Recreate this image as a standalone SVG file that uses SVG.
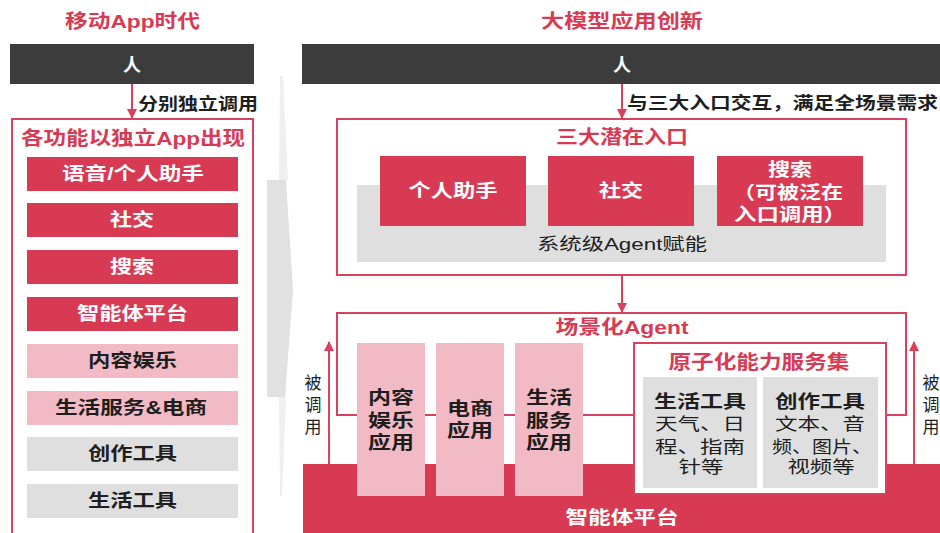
<svg xmlns="http://www.w3.org/2000/svg" width="940" height="533" viewBox="0 0 940 533">
<style>
text{font-family:"Liberation Sans","Noto Sans CJK SC",sans-serif;dominant-baseline:central;text-anchor:middle}
.b{font-weight:bold}
.t{font-size:19px;font-weight:bold;fill:#d93a53}
.w{font-size:18px;font-weight:bold;fill:#fff}
.d{font-size:18px;font-weight:bold;fill:#1e1e1e}
.r{font-size:17px;fill:#1e1e1e}
.red{fill:#d93a53}
.pink{fill:#f1bac4}
.grey{fill:#dfdfdf}
.bar{fill:#3c3c3c}
.frame{fill:none;stroke:#d8425c;stroke-width:2}
.conn{fill:none;stroke:#d8425c;stroke-width:2}
</style>
<defs>
<marker id="ah" viewBox="0 0 10 10" refX="9" refY="5" markerWidth="5" markerHeight="5" orient="auto-start-reverse">
<path d="M0,0 L10,5 L0,10 z" fill="#d8425c"/>
</marker>
</defs>
<rect width="940" height="533" fill="#fff"/>

<!-- middle chevron -->
<g id="chevron">
<polygon points="280,76 283,76 288,180 279,180" fill="#efefef"/>
<polygon points="267,180 286,180 293,290 285,397 267,397" fill="#e1e1e1"/>
<polygon points="279,397 286,397 282,496 280,496" fill="#efefef"/>
</g>

<!-- LEFT PANEL -->
<g id="left-title"><text class="t" x="132.5" y="21" textLength="135" lengthAdjust="spacingAndGlyphs">移动App时代</text></g>
<g id="left-person">
<rect class="bar" x="10" y="44" width="244" height="40"/>
<text class="w" x="132" y="65">人</text>
</g>
<g id="left-frame">
<rect class="frame" x="12" y="119" width="241" height="430"/>
<text class="t" x="133" y="138" textLength="224" lengthAdjust="spacingAndGlyphs">各功能以独立App出现</text>
</g>
<g id="l-voice"><rect class="red" x="27" y="157" width="211" height="34"/><text class="w" x="133" y="174" textLength="142" lengthAdjust="spacingAndGlyphs">语音/个人助手</text></g>
<g id="l-social"><rect class="red" x="27" y="203" width="211" height="34"/><text class="w" x="132" y="220" textLength="44" lengthAdjust="spacingAndGlyphs">社交</text></g>
<g id="l-search"><rect class="red" x="27" y="250" width="211" height="34"/><text class="w" x="132" y="267" textLength="44" lengthAdjust="spacingAndGlyphs">搜索</text></g>
<g id="l-agent"><rect class="red" x="27" y="297" width="211" height="34"/><text class="w" x="132.5" y="314" textLength="111" lengthAdjust="spacingAndGlyphs">智能体平台</text></g>
<g id="l-content"><rect class="pink" x="27" y="344" width="211" height="34"/><text class="d" x="132.5" y="361" textLength="89" lengthAdjust="spacingAndGlyphs">内容娱乐</text></g>
<g id="l-life"><rect class="pink" x="27" y="391" width="211" height="34"/><text class="d" x="131" y="408" textLength="152" lengthAdjust="spacingAndGlyphs">生活服务&amp;电商</text></g>
<g id="l-create"><rect class="grey" x="27" y="437" width="211" height="34"/><text class="d" x="132.5" y="454" textLength="89" lengthAdjust="spacingAndGlyphs">创作工具</text></g>
<g id="l-tools"><rect class="grey" x="27" y="484" width="211" height="34"/><text class="d" x="132.5" y="501" textLength="89" lengthAdjust="spacingAndGlyphs">生活工具</text></g>

<!-- RIGHT PANEL -->
<g id="right-title"><text class="t" x="622" y="21" textLength="162" lengthAdjust="spacingAndGlyphs">大模型应用创新</text></g>
<g id="right-person">
<rect class="bar" x="302" y="44" width="638" height="40"/>
<text class="w" x="622" y="65">人</text>
</g>

<g id="entry-frame">
<rect class="frame" x="337" y="119" width="569" height="156"/>
<text class="t" x="622" y="137" textLength="132" lengthAdjust="spacingAndGlyphs">三大潜在入口</text>
<rect class="grey" x="357" y="185" width="529" height="77"/>
<text class="r" x="622" y="244" textLength="170" lengthAdjust="spacingAndGlyphs">系统级Agent赋能</text>
</g>
<g id="r-assistant"><rect class="red" x="380" y="156" width="146" height="70"/><text class="w" x="453" y="191" textLength="89" lengthAdjust="spacingAndGlyphs">个人助手</text></g>
<g id="r-social"><rect class="red" x="548" y="156" width="146" height="70"/><text class="w" x="621" y="191" textLength="44" lengthAdjust="spacingAndGlyphs">社交</text></g>
<g id="r-search"><rect class="red" x="717" y="156" width="146" height="70"/>
<text class="w" x="790" y="170" textLength="44" lengthAdjust="spacingAndGlyphs">搜索</text>
<text class="w" x="788" y="193" textLength="110" lengthAdjust="spacingAndGlyphs">（可被泛在</text>
<text class="w" x="790" y="215" textLength="112" lengthAdjust="spacingAndGlyphs">入口调用）</text>
</g>

<g id="platform"><rect class="red" x="303" y="464" width="637" height="69"/><text class="w" x="622" y="518" textLength="113" lengthAdjust="spacingAndGlyphs">智能体平台</text></g>

<g id="scene-frame">
<path class="frame" d="M634,415 H337 V313 H906 V415 H886"/>
<text class="t" x="622" y="327" textLength="133" lengthAdjust="spacingAndGlyphs">场景化Agent</text>
</g>
<g id="r-content"><rect class="pink" x="357" y="343" width="68" height="153"/>
<text class="d" x="391" y="398" textLength="46" lengthAdjust="spacingAndGlyphs">内容</text>
<text class="d" x="391" y="421" textLength="46" lengthAdjust="spacingAndGlyphs">娱乐</text>
<text class="d" x="391" y="443" textLength="46" lengthAdjust="spacingAndGlyphs">应用</text>
</g>
<g id="r-ecom"><rect class="pink" x="436" y="343" width="68" height="153"/>
<text class="d" x="470" y="409" textLength="46" lengthAdjust="spacingAndGlyphs">电商</text>
<text class="d" x="470" y="431" textLength="46" lengthAdjust="spacingAndGlyphs">应用</text>
</g>
<g id="r-life"><rect class="pink" x="515" y="343" width="68" height="153"/>
<text class="d" x="549" y="398" textLength="46" lengthAdjust="spacingAndGlyphs">生活</text>
<text class="d" x="549" y="421" textLength="46" lengthAdjust="spacingAndGlyphs">服务</text>
<text class="d" x="549" y="443" textLength="46" lengthAdjust="spacingAndGlyphs">应用</text>
</g>
<g id="atomic">
<rect x="634" y="343" width="252" height="151" fill="#fff" stroke="#d8425c" stroke-width="2"/>
<text class="t" x="759" y="362" textLength="181" lengthAdjust="spacingAndGlyphs">原子化能力服务集</text>
</g>
<g id="a-life"><rect class="grey" x="643" y="377" width="114" height="111"/>
<text class="d" x="700" y="402" textLength="92" lengthAdjust="spacingAndGlyphs">生活工具</text>
<text class="r" x="700" y="424" font-size="18" textLength="90" lengthAdjust="spacingAndGlyphs">天气、日</text>
<text class="r" x="700" y="447" font-size="18" textLength="90" lengthAdjust="spacingAndGlyphs">程、指南</text>
<text class="r" x="701" y="467" font-size="18" textLength="45" lengthAdjust="spacingAndGlyphs">针等</text>
</g>
<g id="a-create"><rect class="grey" x="763" y="377" width="115" height="111"/>
<text class="d" x="820" y="402" textLength="90" lengthAdjust="spacingAndGlyphs">创作工具</text>
<text class="r" x="820" y="424" font-size="18" textLength="90" lengthAdjust="spacingAndGlyphs">文本、音</text>
<text class="r" x="822" y="447" font-size="18" textLength="100" lengthAdjust="spacingAndGlyphs">频、图片、</text>
<text class="r" x="821" y="467" font-size="18" textLength="67" lengthAdjust="spacingAndGlyphs">视频等</text>
</g>

<!-- connectors -->
<g id="connectors">
<line class="conn" x1="132" y1="84" x2="132" y2="118" marker-end="url(#ah)"/>
<text class="b" x="138" y="104" font-size="17" fill="#1e1e1e" style="text-anchor:start" textLength="120" lengthAdjust="spacingAndGlyphs">分别独立调用</text>
<line class="conn" x1="622" y1="84" x2="622" y2="118" marker-end="url(#ah)"/>
<text class="b" x="627" y="103" font-size="17" fill="#1e1e1e" style="text-anchor:start" textLength="311" lengthAdjust="spacingAndGlyphs">与三大入口交互，满足全场景需求</text>
<line class="conn" x1="622" y1="276" x2="622" y2="312" marker-end="url(#ah)"/>
<line class="conn" x1="329" y1="464" x2="329" y2="342" marker-end="url(#ah)"/>
<line class="conn" x1="914" y1="464" x2="914" y2="342" marker-end="url(#ah)"/>
<text class="r" x="313" y="383" font-size="19">被</text>
<text class="r" x="313" y="405" font-size="19">调</text>
<text class="r" x="313" y="427" font-size="19">用</text>
<text class="r" x="931" y="383" font-size="19">被</text>
<text class="r" x="931" y="405" font-size="19">调</text>
<text class="r" x="931" y="427" font-size="19">用</text>
</g>
</svg>
